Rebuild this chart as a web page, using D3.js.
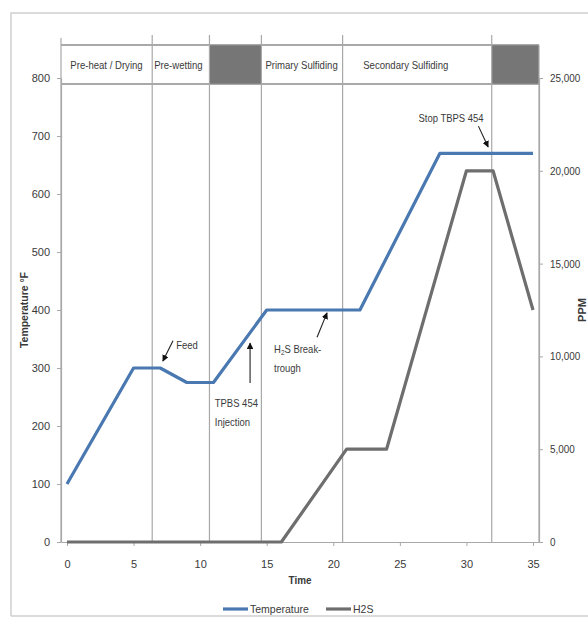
<!DOCTYPE html>
<html>
<head>
<meta charset="utf-8">
<script src="https://cdn.jsdelivr.net/npm/d3@7"></script>
<style>
  html, body { margin: 0; padding: 0; background: #fff; }
  svg { display: block; }
  text { font-family: "Liberation Sans Narrow", "Arial Narrow", "Liberation Sans", sans-serif; fill: #3a3a3a; }
</style>
</head>
<body>
<svg id="chart" width="588" height="618"></svg>
<script>
// ---------- data ----------
const tempTime  = [0, 5, 7, 9, 11, 15, 22, 28, 35];
const tempValue = [100, 300, 300, 275, 275, 400, 400, 670, 670];
const h2sTime   = [0, 16.1, 21, 24, 30, 32, 35];
const h2sValue  = [0, 0, 5000, 5000, 20000, 20000, 12500];

const xTicks     = [0, 5, 10, 15, 20, 25, 30, 35];
const leftTicks  = [0, 100, 200, 300, 400, 500, 600, 700, 800];
const rightTicks = [0, 5000, 10000, 15000, 20000, 25000];

const phaseBounds = [-0.45, 6.4, 10.7, 14.6, 20.7, 31.9, 35.45];
const phaseNames  = ["Pre-heat / Drying", "Pre-wetting", "", "Primary Sulfiding", "Secondary Sulfiding", ""];
const phaseShaded = [false, false, true, false, false, true];
const phaseLabelOffset = [0.7, 0.15, 0, 0.3, 1.55, 0];   // label start, in time units after the phase start

const seriesNames = ["Temperature", "H2S"];

// annotations in data coordinates (time, temperature)
const annotations = [
  { lines: ["Feed"], tx: 8.2, ty: 333, from: [7.96, 347], to: [7.2, 312] },
  { lines: ["TPBS 454", "Injection"], tx: 11.1, ty: 233, from: [13.75, 274], to: [13.75, 343] },
  { lines: ["H\u2082S Break-", "trough"], tx: 15.55, ty: 326, from: [18.78, 353], to: [19.53, 395] },
  { lines: ["Stop TBPS 454"], tx: 26.4, ty: 724, from: [30.9, 717], to: [31.63, 681] }
];

// ---------- layout ----------
const svg = d3.select("#chart");
const pLeft = 61, pRight = 539, pTop = 78, pBottom = 542;
const headerTop = 45, headerBottom = 84;
const gridColor = "#a8a8a8";
const blue = "#4a78b0", gray = "#6e6e6e";

const x  = d3.scaleLinear().domain([-0.45, 35.45]).range([pLeft, pRight]);
const yL = d3.scaleLinear().domain([0, 800]).range([pBottom, pTop]);
const yR = d3.scaleLinear().domain([0, 25000]).range([pBottom, pTop]);

// condense a text horizontally (the reference uses a narrow font)
function condense(sel, f) {
  sel.each(function () {
    const w = this.getComputedTextLength();
    d3.select(this).attr("textLength", w * f).attr("lengthAdjust", "spacingAndGlyphs");
  });
}

// outer frame
svg.append("path").attr("d", `M11,616 L11,13 L588,13`).attr("fill", "none").attr("stroke", "#cfcfcf").attr("stroke-width", 1.5);
svg.append("line").attr("x1", 11).attr("x2", 588).attr("y1", 616).attr("y2", 616).attr("stroke", "#cfcfcf").attr("stroke-width", 1.5);

// header phase boxes
const phases = phaseNames.map((n, i) => ({ name: n, x0: phaseBounds[i], x1: phaseBounds[i + 1], shaded: phaseShaded[i], off: phaseLabelOffset[i] }));
svg.selectAll("rect.phase").data(phases).enter().append("rect")
  .attr("x", d => x(d.x0)).attr("y", headerTop)
  .attr("width", d => x(d.x1) - x(d.x0)).attr("height", headerBottom - headerTop)
  .attr("fill", d => d.shaded ? "#767676" : "none");
svg.append("line").attr("x1", pLeft).attr("x2", pRight).attr("y1", headerTop).attr("y2", headerTop).attr("stroke", "#8c8c8c").attr("stroke-width", 1.5);
svg.append("line").attr("x1", pLeft).attr("x2", pRight).attr("y1", headerBottom).attr("y2", headerBottom).attr("stroke", "#8c8c8c").attr("stroke-width", 1.5);

svg.selectAll("text.phase").data(phases.filter(d => d.name)).enter().append("text")
  .attr("class", "phase")
  .attr("x", d => x(d.x0 + d.off))
  .attr("y", 69)
  .attr("font-size", 11)
  .text(d => d.name)
  .call(condense, 0.87);

// phase separators and plot borders
svg.selectAll("line.sep").data(phaseBounds.slice(1, -1)).enter().append("line")
  .attr("x1", d => x(d)).attr("x2", d => x(d)).attr("y1", 35).attr("y2", pBottom)
  .attr("stroke", gridColor).attr("stroke-width", 1.2);
svg.append("line").attr("x1", pLeft).attr("x2", pLeft).attr("y1", 38).attr("y2", pBottom).attr("stroke", gridColor).attr("stroke-width", 1.2);
svg.append("line").attr("x1", pRight).attr("x2", pRight).attr("y1", headerTop).attr("y2", pBottom).attr("stroke", gridColor).attr("stroke-width", 1.2);

// axes
function styleAxis(g) {
  g.select(".domain").attr("stroke", gridColor).attr("stroke-width", 1.2);
  g.selectAll(".tick line").attr("stroke", gridColor);
  g.selectAll(".tick text").attr("font-size", 11).attr("fill", "#3a3a3a")
    .attr("font-family", '"Liberation Sans Narrow", "Arial Narrow", "Liberation Sans", sans-serif');
}
const gx = svg.append("g").attr("transform", `translate(0,${pBottom})`)
  .call(d3.axisBottom(x).tickValues(xTicks).tickSize(4).tickSizeOuter(0).tickPadding(14));
styleAxis(gx);
const gl = svg.append("g").attr("transform", `translate(${pLeft},0)`)
  .call(d3.axisLeft(yL).tickValues(leftTicks).tickSize(4).tickSizeOuter(0).tickPadding(7));
styleAxis(gl);
const gr = svg.append("g").attr("transform", `translate(${pRight},0)`)
  .call(d3.axisRight(yR).tickValues(rightTicks).tickSize(4).tickSizeOuter(0).tickPadding(7)
    .tickFormat(d3.format(",")));
styleAxis(gr);
condense(gr.selectAll(".tick text"), 0.9);

// axis titles
svg.append("text").attr("x", (pLeft + pRight) / 2).attr("y", 584).attr("text-anchor", "middle")
  .attr("font-size", 11).attr("font-weight", "bold").text("Time").call(condense, 0.9);
svg.append("text").attr("transform", `translate(28,${(pTop + pBottom) / 2}) rotate(-90)`).attr("text-anchor", "middle")
  .attr("font-size", 11).attr("font-weight", "bold").text("Temperature \u00B0F").call(condense, 0.95);
svg.append("text").attr("transform", `translate(586,${(pTop + pBottom) / 2}) rotate(-90)`).attr("text-anchor", "middle")
  .attr("font-size", 11).attr("font-weight", "bold").text("PPM");

// series lines
const tempData = tempTime.map((t, i) => [t, tempValue[i]]);
const h2sData  = h2sTime.map((t, i) => [t, h2sValue[i]]);
svg.append("path").datum(h2sData)
  .attr("d", d3.line().x(d => x(d[0])).y(d => yR(d[1])))
  .attr("fill", "none").attr("stroke", gray).attr("stroke-width", 3.2).attr("stroke-linejoin", "round");
svg.append("path").datum(tempData)
  .attr("d", d3.line().x(d => x(d[0])).y(d => yL(d[1])))
  .attr("fill", "none").attr("stroke", blue).attr("stroke-width", 3.2).attr("stroke-linejoin", "round");

// annotations
const defs = svg.append("defs");
defs.append("marker").attr("id", "ah").attr("viewBox", "0 0 10 10").attr("refX", 9).attr("refY", 5)
  .attr("markerWidth", 6).attr("markerHeight", 6).attr("orient", "auto")
  .append("path").attr("d", "M0,0 L10,5 L0,10 Z").attr("fill", "#111");
annotations.forEach(a => {
  svg.append("line")
    .attr("x1", x(a.from[0])).attr("y1", yL(a.from[1]))
    .attr("x2", x(a.to[0])).attr("y2", yL(a.to[1]))
    .attr("stroke", "#222").attr("stroke-width", 1.1).attr("marker-end", "url(#ah)");
  a.lines.forEach((ln, i) => {
    const t = svg.append("text").attr("x", x(a.tx)).attr("y", yL(a.ty) + i * 19).attr("font-size", 11);
    if (ln.indexOf("\u2082") >= 0) {
      const parts = ln.split("\u2082");
      t.append("tspan").text(parts[0]);
      t.append("tspan").attr("font-size", 7.5).attr("dy", 2).text("2");
      t.append("tspan").attr("dy", -2).text(parts[1]);
    } else {
      t.text(ln);
    }
    t.call(condense, 0.86);
  });
});

// legend
const legendItems = [{ name: seriesNames[0], color: blue, x0: 223 }, { name: seriesNames[1], color: gray, x0: 326 }];
legendItems.forEach(l => {
  svg.append("line").attr("x1", l.x0).attr("x2", l.x0 + 25).attr("y1", 609).attr("y2", 609)
    .attr("stroke", l.color).attr("stroke-width", 3.2);
  svg.append("text").attr("x", l.x0 + 27).attr("y", 613).attr("font-size", 10.5).text(l.name);
});
</script>
</body>
</html>
